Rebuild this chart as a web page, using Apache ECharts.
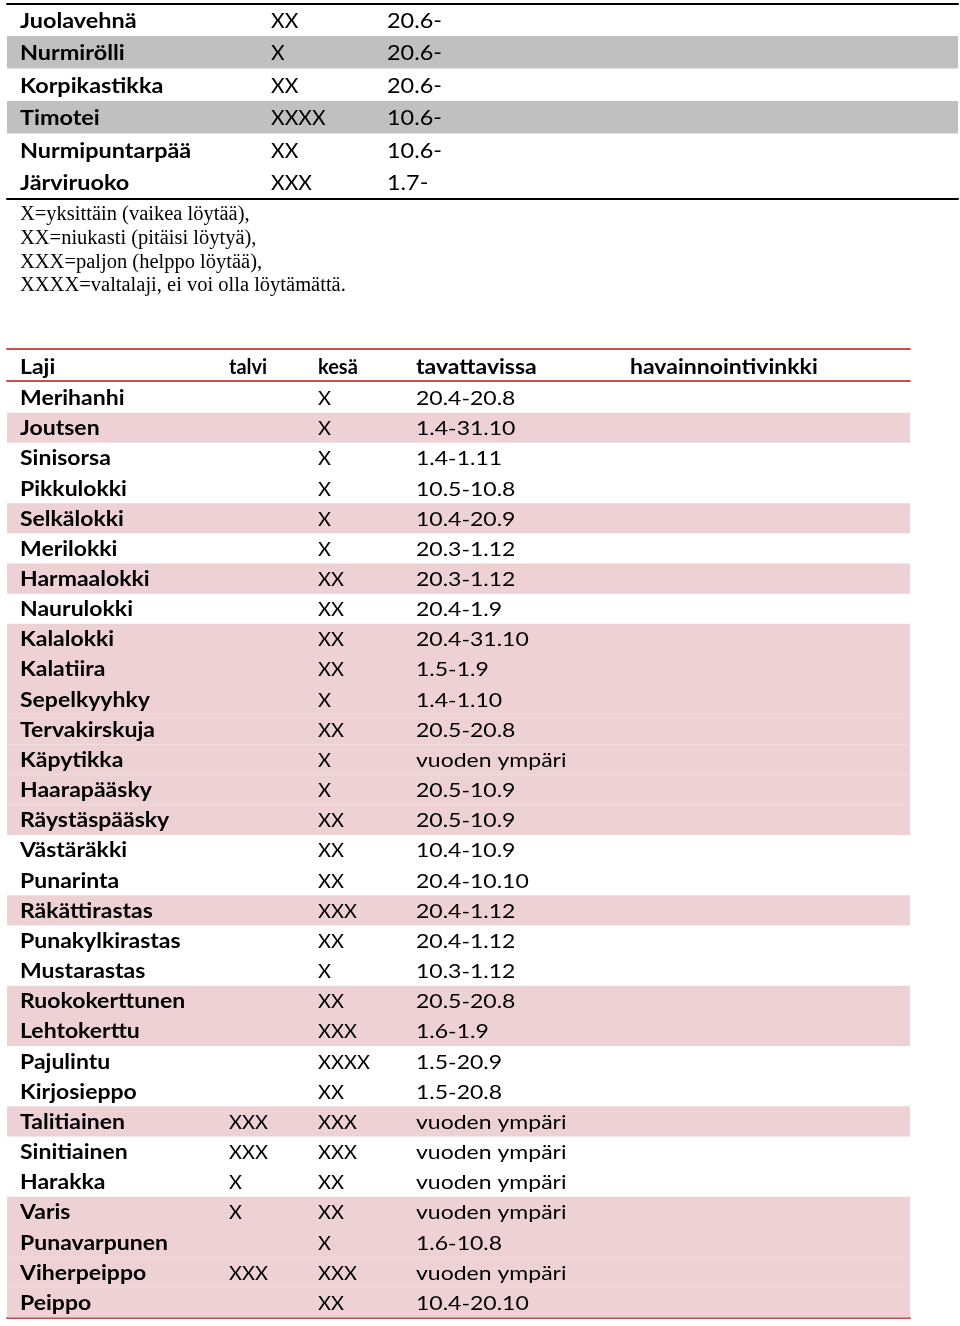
<!DOCTYPE html>
<html>
<head>
<meta charset="utf-8">
<script src="https://cdn.jsdelivr.net/npm/echarts@6/dist/echarts.min.js"></script>
<style>
html,body{margin:0;padding:0;background:#fff;}
#chart{width:960px;height:1326px;}
</style>
</head>
<body>
<div id="chart"></div>
<script>
// ---------- Table 1 data ----------
const plantNames = ['Juolavehnä','Nurmirölli','Korpikastikka','Timotei','Nurmipuntarpää','Järviruoko'];
const plantAbundance = ['XX','X','XX','XXXX','XX','XXX'];
const plantDates = ['20.6-','20.6-','20.6-','10.6-','10.6-','1.7-'];
const plantShaded = [0,1,0,1,0,0];

const legendLines = [
  'X=yksittäin (vaikea löytää),',
  'XX=niukasti (pitäisi löytyä),',
  'XXX=paljon (helppo löytää),',
  'XXXX=valtalaji, ei voi olla löytämättä.'
];

// ---------- Table 2 data ----------
const birdHeaders = ['Laji','talvi','kesä','tavattavissa','havainnointivinkki'];
const birdNames = ['Merihanhi','Joutsen','Sinisorsa','Pikkulokki','Selkälokki','Merilokki','Harmaalokki','Naurulokki','Kalalokki','Kalatiira','Sepelkyyhky','Tervakirskuja','Käpytikka','Haarapääsky','Räystäspääsky','Västäräkki','Punarinta','Räkättirastas','Punakylkirastas','Mustarastas','Ruokokerttunen','Lehtokerttu','Pajulintu','Kirjosieppo','Talitiainen','Sinitiainen','Harakka','Varis','Punavarpunen','Viherpeippo','Peippo'];
const birdWinter = ['','','','','','','','','','','','','','','','','','','','','','','','','XXX','XXX','X','X','','XXX',''];
const birdSummer = ['X','X','X','X','X','X','XX','XX','XX','XX','X','XX','X','X','XX','XX','XX','XXX','XX','X','XX','XXX','XXXX','XX','XXX','XXX','XX','XX','X','XXX','XX'];
const birdPeriod = ['20.4-20.8','1.4-31.10','1.4-1.11','10.5-10.8','10.4-20.9','20.3-1.12','20.3-1.12','20.4-1.9','20.4-31.10','1.5-1.9','1.4-1.10','20.5-20.8','vuoden ympäri','20.5-10.9','20.5-10.9','10.4-10.9','20.4-10.10','20.4-1.12','20.4-1.12','10.3-1.12','20.5-20.8','1.6-1.9','1.5-20.9','1.5-20.8','vuoden ympäri','vuoden ympäri','vuoden ympäri','vuoden ympäri','1.6-10.8','vuoden ympäri','10.4-20.10'];
const birdTip = birdNames.map(() => '');
const birdShaded = [0,1,0,0,1,0,1,0,1,1,1,1,1,1,1,0,0,1,0,0,1,1,0,0,1,0,0,1,1,1,1];

// ---------- layout / style ----------
const FONT = 'Lato';
const T1_W = 951, T2_W = 903;
const T1_COLS = [13, 264, 380];
const T2_COLS = [13, 222, 311, 409, 623];
const GRAY = '#c0c0c0', PINK = '#edd1d4', RED = '#c0504d';
const T1_SIZE = 21, T1_STRETCH = [1.115, 1.0, 1.115];
const T2_SIZE = 20, T2_STRETCH = [1.15, 1.0, 1.0, 1.15, 1.15];

function txt(x, y, s, bold, size, stretch) {
  return {type:'text', x:x, y:y, scaleX:stretch, scaleY:1,
    style:{x:0, y:0, text:s, fill:'#000', font:(bold?'bold ':'')+size+'px '+FONT, textAlign:'left', textVerticalAlign:'middle'}, silent:true};
}

function makeRender(width, cols, cells, shaded, shadeColor, boldCols, size, stretch, dy) {
  return function(params, api) {
    const i = params.dataIndex;
    const h = api.size([0, 1])[1];
    const left = api.coord([0, i]);
    const right = api.coord([width, i]);
    const children = [];
    if (shaded && shaded[i]) {
      children.push({type:'rect', shape:{x:left[0], y:left[1]-h/2, width:right[0]-left[0], height:h}, style:{fill:shadeColor}, silent:true});
    }
    cols.forEach((cx, c) => {
      const p = api.coord([cx, i]);
      const s = cells[c][i];
      if (s) children.push(txt(p[0], p[1] + dy, s, boldCols[c], size, stretch[c]));
    });
    return {type:'group', children:children};
  };
}

function hiddenX(grid, width, pos, lineColor) {
  return {type:'value', gridIndex:grid, min:0, max:width, position:pos,
    axisLine:{show:!!lineColor, onZero:false, lineStyle:{color:lineColor||'#000', width:2}},
    axisTick:{show:false}, axisLabel:{show:false}, splitLine:{show:false}};
}
function hiddenY(grid, data) {
  return {type:'category', gridIndex:grid, data:data, inverse:true, show:false, boundaryGap:true};
}

const headerRow = birdHeaders.map(h => [h]);

const option = {
  animation:false,
  backgroundColor:'#fff',
  title:{
    text: legendLines.join('\n'),
    left: 20, top: 203, padding:0,
    textStyle:{fontFamily:'Liberation Serif', fontSize:20.5, fontWeight:'normal', color:'#000', lineHeight:23.7}
  },
  grid:[
    {left:7, width:T1_W, top:3.5, height:195},
    {left:7, width:T2_W, top:348.5, height:32.5},
    {left:7, width:T2_W, top:382.5, height:935}
  ],
  xAxis:[
    hiddenX(0, T1_W, 'top', '#000'),
    hiddenX(0, T1_W, 'bottom', '#000'),
    hiddenX(1, T2_W, 'top', RED),
    hiddenX(1, T2_W, 'bottom', RED),
    hiddenX(2, T2_W, 'bottom', RED)
  ],
  yAxis:[
    hiddenY(0, plantNames),
    hiddenY(1, ['header']),
    hiddenY(2, birdNames)
  ],
  series:[
    {type:'custom', xAxisIndex:0, yAxisIndex:0, clip:false, z:1,
     data: plantNames.map((n,i) => [0, i]),
     renderItem: makeRender(T1_W, T1_COLS, [plantNames, plantAbundance, plantDates], plantShaded, GRAY, [true,false,false], T1_SIZE, T1_STRETCH, 1.2)},
    {type:'custom', xAxisIndex:2, yAxisIndex:1, clip:false, z:1,
     data: [[0, 0]],
     renderItem: makeRender(T2_W, T2_COLS, headerRow, null, null, [true,true,true,true,true], T2_SIZE, T2_STRETCH, 3)},
    {type:'custom', xAxisIndex:4, yAxisIndex:2, clip:false, z:1,
     data: birdNames.map((n,i) => [0, i]),
     renderItem: makeRender(T2_W, T2_COLS, [birdNames, birdWinter, birdSummer, birdPeriod, birdTip], birdShaded, PINK, [true,false,false,false,false], T2_SIZE, T2_STRETCH, 1)}
  ]
};

const chart = echarts.init(document.getElementById('chart'), null, {renderer:'canvas'});
chart.setOption(option);
</script>
</body>
</html>
